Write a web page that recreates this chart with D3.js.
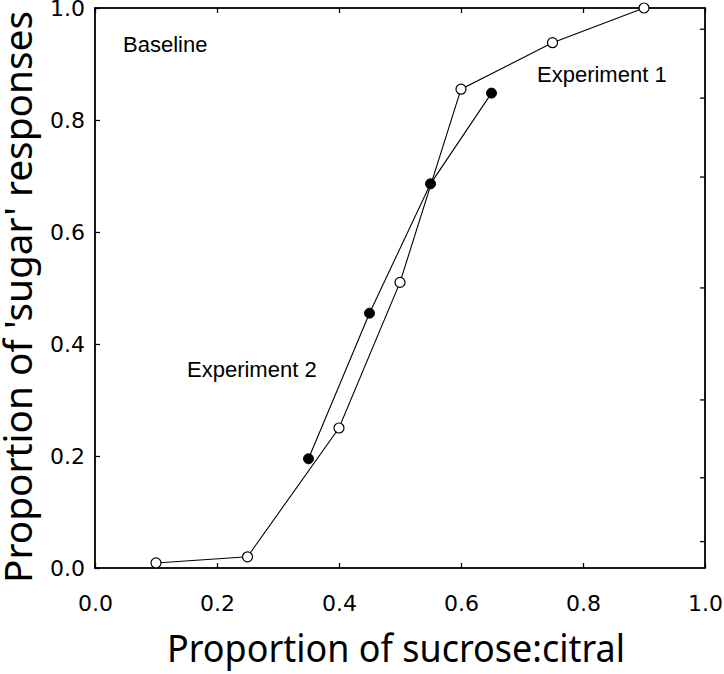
<!DOCTYPE html>
<html>
<head>
<meta charset="utf-8">
<script src="https://cdn.jsdelivr.net/npm/d3@7"></script>
<style>
  body { margin: 0; background: white; }
  svg { display: block; }
</style>
</head>
<body>
<div id="chart"></div>
<script>
// open circles (baseline curve)
var openX = [0.10, 0.25, 0.40, 0.50, 0.60, 0.75, 0.90];
var openY = [0.009, 0.02, 0.25, 0.51, 0.855, 0.938, 1.0];
// filled circles
var filledX = [0.35, 0.45, 0.55, 0.65];
var filledY = [0.195, 0.455, 0.686, 0.848];

var xTicks = [0.0, 0.2, 0.4, 0.6, 0.8, 1.0];
var yTicks = [0.0, 0.2, 0.4, 0.6, 0.8, 1.0];
var rightTicks = [0.048, 0.162, 0.301, 0.501, 0.699, 0.84, 0.963];

var w = 724;
var h = 674;
var plotLeft = 95, plotRight = 705, plotTop = 8, plotBottom = 568;

var svg = d3.select("#chart")
  .append("svg")
  .attr("width", w)
  .attr("height", h);

var xScale = d3.scaleLinear().domain([0, 1]).range([plotLeft, plotRight]);
var yScale = d3.scaleLinear().domain([0, 1]).range([plotBottom, plotTop]);

var fmt = d3.format(".1f");

// all ticks point inward
var xAxis = d3.axisBottom(xScale).tickValues(xTicks).tickFormat(fmt).tickSizeInner(-5).tickSizeOuter(0).tickPadding(27);
var gx = svg.append("g").attr("transform", "translate(0," + plotBottom + ")").call(xAxis);

var yAxis = d3.axisLeft(yScale).tickValues(yTicks).tickFormat(fmt).tickSizeInner(-5).tickSizeOuter(0).tickPadding(10);
var gy = svg.append("g").attr("transform", "translate(" + plotLeft + ",0)").call(yAxis);

var topAxis = d3.axisTop(xScale).tickValues(xTicks).tickFormat("").tickSizeInner(-5).tickSizeOuter(0);
var gt = svg.append("g").attr("transform", "translate(0," + plotTop + ")").call(topAxis);

var rightAxis = d3.axisRight(yScale).tickValues(rightTicks).tickFormat("").tickSizeInner(-5).tickSizeOuter(0);
var gr = svg.append("g").attr("transform", "translate(" + plotRight + ",0)").call(rightAxis);

[gx, gy, gt, gr].forEach(function(g) {
  g.select(".domain").remove();
  g.selectAll(".tick line").attr("stroke", "#000").attr("stroke-width", 1.3);
  g.selectAll(".tick text")
    .attr("font-family", "DejaVu Sans, sans-serif")
    .attr("font-size", "22px")
    .attr("fill", "#000");
});

// frame
svg.append("rect")
  .attr("x", plotLeft)
  .attr("y", plotTop)
  .attr("width", plotRight - plotLeft)
  .attr("height", plotBottom - plotTop)
  .attr("fill", "none")
  .attr("stroke", "#000")
  .attr("stroke-width", 1.8);

var line = d3.line()
  .x((d) => xScale(d[0]))
  .y((d) => yScale(d[1]));

var openData = openX.map((d, i) => [d, openY[i]]);
var filledData = filledX.map((d, i) => [d, filledY[i]]);

svg.append("path")
  .datum(openData)
  .attr("d", line)
  .attr("fill", "none")
  .attr("stroke", "#000")
  .attr("stroke-width", 1.1);

svg.append("path")
  .datum(filledData)
  .attr("d", line)
  .attr("fill", "none")
  .attr("stroke", "#000")
  .attr("stroke-width", 1.1);

svg.selectAll(".open-pt")
  .data(openData)
  .enter()
  .append("circle")
  .attr("class", "open-pt")
  .attr("cx", (d) => xScale(d[0]))
  .attr("cy", (d) => yScale(d[1]))
  .attr("r", 5)
  .attr("fill", "white")
  .attr("stroke", "#000")
  .attr("stroke-width", 1.2);

svg.selectAll(".filled-pt")
  .data(filledData)
  .enter()
  .append("circle")
  .attr("class", "filled-pt")
  .attr("cx", (d) => xScale(d[0]))
  .attr("cy", (d) => yScale(d[1]))
  .attr("r", 5)
  .attr("fill", "#000")
  .attr("stroke", "#000")
  .attr("stroke-width", 1);

// annotations
var notes = [
  { text: "Baseline", x: 123, y: 52 },
  { text: "Experiment 1", x: 537, y: 82 },
  { text: "Experiment 2", x: 187, y: 377 }
];
svg.selectAll(".note")
  .data(notes)
  .enter()
  .append("text")
  .attr("class", "note")
  .attr("x", (d) => d.x)
  .attr("y", (d) => d.y)
  .attr("font-family", "Liberation Sans, Arial, sans-serif")
  .attr("font-size", "22px")
  .attr("fill", "#000")
  .text((d) => d.text);

// axis titles
svg.append("text")
  .attr("x", 167)
  .attr("y", 662)
  .attr("textLength", 458)
  .attr("lengthAdjust", "spacingAndGlyphs")
  .attr("font-family", "Noto Sans, sans-serif")
  .attr("font-size", "38px")
  .attr("fill", "#000")
  .text("Proportion of sucrose:citral");

svg.append("text")
  .attr("transform", "translate(32,583) rotate(-90)")
  .attr("textLength", 572)
  .attr("lengthAdjust", "spacingAndGlyphs")
  .attr("font-family", "Noto Sans, sans-serif")
  .attr("font-size", "38px")
  .attr("fill", "#000")
  .text("Proportion of 'sugar' responses");
</script>
</body>
</html>
